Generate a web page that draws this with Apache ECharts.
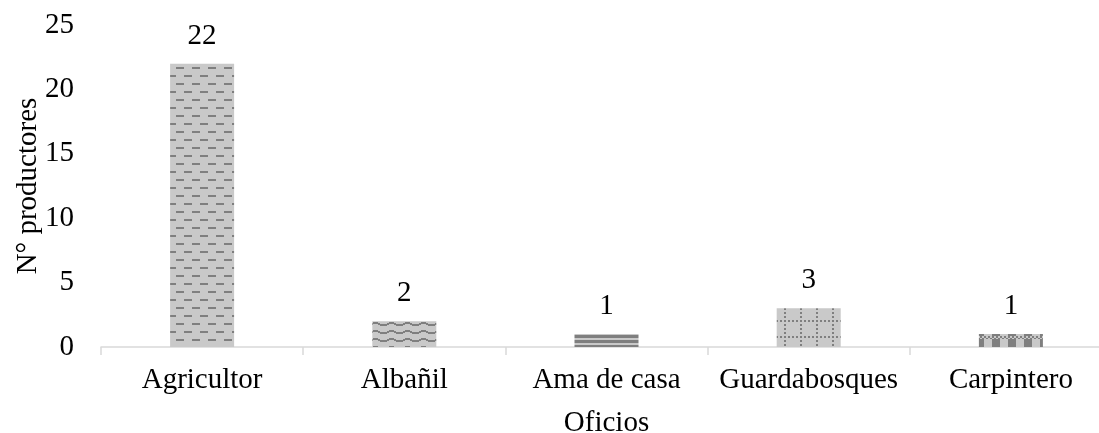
<!DOCTYPE html>
<html>
<head>
<meta charset="utf-8">
<style>
  html, body { margin: 0; padding: 0; overflow: hidden; background: #fff; }
  #chart { width: 1112px; height: 433px; }
</style>
<script src="https://cdn.jsdelivr.net/npm/echarts@6/dist/echarts.min.js"></script>
</head>
<body>
<div id="chart"></div>
<script>
// Occupations of the producers and how many producers have each one
const categories = ['Agricultor', 'Albañil', 'Ama de casa', 'Guardabosques', 'Carpintero'];
const producers = [22, 2, 1, 3, 1];
const yMin = 0, yMax = 25, yStep = 5;

const FILL = '#c9c9c9';
const INK = '#7f7f7f';
const FONT = 'Liberation Serif';
const FS = 29;

// Small canvas tiles used as hatch fills for each bar
function tile(w, h, draw) {
  const c = document.createElement('canvas');
  c.width = w; c.height = h;
  const g = c.getContext('2d');
  g.fillStyle = FILL; g.fillRect(0, 0, w, h);
  g.fillStyle = INK;
  draw(g);
  return { image: c, repeat: 'repeat' };
}

const patterns = [
  // staggered dashes
  tile(16, 16, g => { g.fillRect(0, 3, 8, 2); g.fillRect(8, 11, 8, 2); }),
  // small waves
  tile(16, 8, g => {
    g.fillRect(0, 4, 3, 2); g.fillRect(3, 3, 2, 2); g.fillRect(5, 2, 5, 2);
    g.fillRect(10, 3, 2, 2); g.fillRect(12, 4, 4, 2);
  }),
  // horizontal stripes
  tile(4, 5, g => { g.fillRect(0, 0, 4, 3); }),
  // dotted grid
  tile(16, 16, g => {
    for (let i = 0; i < 16; i += 4) { g.fillRect(i, 0, 2, 2); g.fillRect(0, i, 2, 2); }
  }),
  // checker blocks
  tile(16, 16, g => {
    g.fillRect(0, 3, 8, 13);
    g.fillRect(0, 0, 2, 2); g.fillRect(4, 0, 2, 2); g.fillRect(8, 0, 2, 2); g.fillRect(12, 0, 2, 2);
    g.fillRect(2, 2, 2, 1); g.fillRect(6, 2, 2, 1); g.fillRect(10, 2, 2, 1); g.fillRect(14, 2, 2, 1);
  })
];

const chart = echarts.init(document.getElementById('chart'), null, { renderer: 'canvas' });
chart.setOption({
  animation: false,
  backgroundColor: '#fff',
  textStyle: { fontFamily: FONT, color: '#000' },
  grid: { left: 101, right: 0, top: 25, bottom: 86, containLabel: false, outerBoundsMode: 'none' },
  xAxis: {
    type: 'category',
    data: categories,
    name: 'Oficios',
    nameLocation: 'middle',
    nameGap: 62,
    nameMoveOverlap: false,
    nameTextStyle: { fontFamily: FONT, fontSize: FS, color: '#000' },
    axisLine: { lineStyle: { color: '#d9d9d9', width: 1.5 } },
    axisTick: { show: true, length: 8, lineStyle: { color: '#d9d9d9', width: 1.5 } },
    axisLabel: { interval: 0, fontFamily: FONT, fontSize: FS, color: '#000', margin: 19 }
  },
  yAxis: {
    type: 'value',
    min: yMin, max: yMax, interval: yStep,
    name: 'N° productores',
    nameLocation: 'middle',
    nameGap: 58,
    nameMoveOverlap: false,
    nameTextStyle: { fontFamily: FONT, fontSize: FS, color: '#000' },
    axisLine: { show: false },
    axisTick: { show: false },
    splitLine: { show: false },
    axisLabel: { fontFamily: FONT, fontSize: FS, color: '#000', margin: 27 }
  },
  series: [{
    type: 'bar',
    barWidth: 64,
    data: producers.map((v, i) => ({ value: v, itemStyle: { color: patterns[i] } })),
    label: {
      show: true, position: 'top', distance: 13,
      fontFamily: FONT, fontSize: FS, color: '#000'
    }
  }]
});
</script>
</body>
</html>
